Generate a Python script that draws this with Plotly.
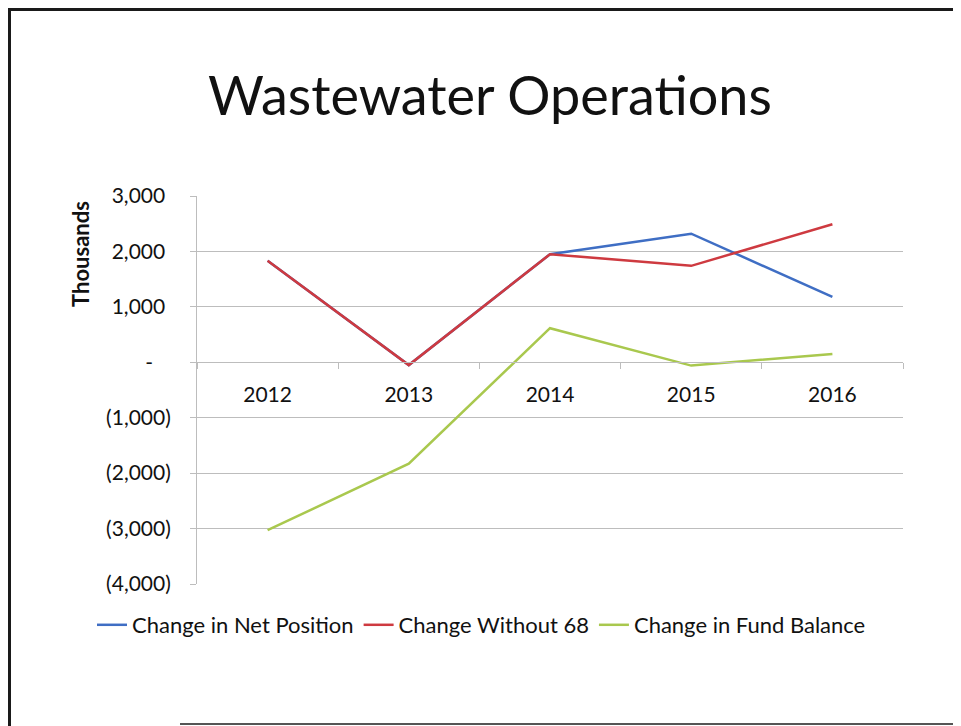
import plotly.graph_objects as go

years = ["2012", "2013", "2014", "2015", "2016"]
net_position = [1830, -50, 1950, 2320, 1180]
without_68 = [1830, -50, 1950, 1740, 2490]
fund_balance = [-3030, -1830, 615, -60, 150]

y_tick_vals = [3000, 2000, 1000, 0, -1000, -2000, -3000, -4000]
y_tick_text = ["3,000", "2,000", "1,000", "-", "(1,000)", "(2,000)", "(3,000)", "(4,000)"]

HID = "<span style='color:rgba(0,0,0,0)'>{}</span>"
def fmt(t):
    if t == "-":
        return "-" + HID.format("0)")
    if not t.startswith("("):
        return t + HID.format(")")
    return t

FONT = "Lato, Carlito, Calibri, sans-serif"
GRID = "#BDBDBD"

fig = go.Figure()
fig.add_trace(go.Scatter(x=years, y=net_position, mode="lines", name="Change in Net Position",
                         line=dict(color="#3F6EC4", width=2.5)))
fig.add_trace(go.Scatter(x=years, y=without_68, mode="lines", name="Change Without 68",
                         line=dict(color="#CE3A40", width=2.5)))
fig.add_trace(go.Scatter(x=years, y=fund_balance, mode="lines", name="Change in Fund Balance",
                         line=dict(color="#A9C84E", width=2.5)))

OFF = 8  # page body margin
W, H = 961 - OFF, 726 - OFF
# plot area in reference page pixels: x 197..903, y 196..584
L, T = 197 - OFF, 196 - OFF
R = W - (903 - OFF)
B = H - (584 - OFF)
pw, ph = W - L - R, H - T - B

def px(xp):
    return (xp - OFF - L) / pw

def py(yp):
    return (H - B - (yp - OFF)) / ph

fig.update_layout(
    width=W, height=H,
    margin=dict(l=L, r=R, t=T, b=B),
    paper_bgcolor="white", plot_bgcolor="white",
    font=dict(family=FONT, color="#111111"),
    title=dict(text="Wastewater Operations", x=(490 - OFF) / W, xanchor="center",
               y=1 - (96 - OFF) / H, yanchor="middle", yref="container",
               font=dict(size=54, family=FONT, color="#111111")),
    xaxis=dict(type="category", categoryorder="array", categoryarray=years,
               range=[-0.5, 4.5], anchor="free", position=4000 / 7000,
               showline=True, linecolor=GRID, linewidth=1,
               showgrid=False, zeroline=False,
               ticks="outside", tickson="boundaries", ticklen=6, tickcolor=GRID,
               ticklabelstandoff=14,
               tickfont=dict(size=21, family=FONT, color="#111111")),
    yaxis=dict(range=[-4000, 3000], tickvals=y_tick_vals,
               ticktext=[fmt(t) for t in y_tick_text],
               showgrid=True, gridcolor=GRID, gridwidth=1,
               showline=True, linecolor=GRID, linewidth=1,
               zeroline=False, ticks="outside", ticklen=6, tickcolor=GRID,
               ticklabelstandoff=15,
               tickfont=dict(size=21, family=FONT, color="#111111")),
    showlegend=True,
    legend=dict(orientation="h", x=px(92), xanchor="left", y=py(625), yanchor="middle",
                font=dict(size=22, family=FONT, color="#111111"),
                itemwidth=30, tracegroupgap=0, bgcolor="rgba(0,0,0,0)"),
    annotations=[dict(text="<b>Thousands</b>", textangle=-90, xref="paper", yref="paper",
                      x=px(80), y=py(254), xanchor="center", yanchor="middle",
                      showarrow=False, font=dict(size=22, family=FONT, color="#111111"))],
    shapes=[
        dict(type="line", xref="paper", yref="paper", x0=px(9.5), x1=px(9.5), y0=py(9), y1=py(727),
             line=dict(color="#1A1A1A", width=3)),
        dict(type="line", xref="paper", yref="paper", x0=px(8), x1=px(975), y0=py(9.5), y1=py(9.5),
             line=dict(color="#1A1A1A", width=3)),
        dict(type="line", xref="paper", yref="paper", x0=px(180), x1=px(975), y0=py(724), y1=py(724),
             line=dict(color="#555555", width=2)),
    ],
)

fig.write_html("out.html")
